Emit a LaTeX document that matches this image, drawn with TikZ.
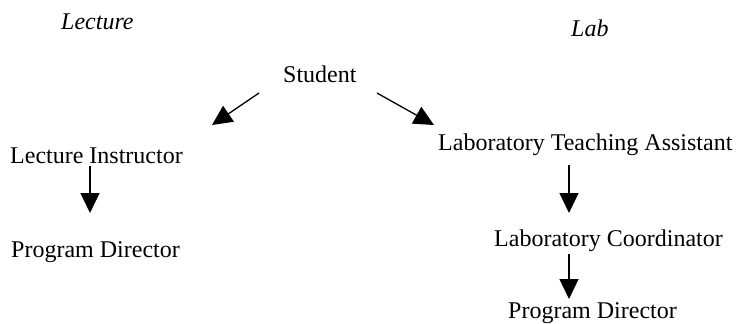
\documentclass[tikz,border=0pt]{standalone}
\usepackage{fontspec}
\setmainfont{Liberation Serif}
\usetikzlibrary{arrows.meta}
\begin{document}
\begin{tikzpicture}[x=1pt,y=-1pt,
  lbl/.style={inner sep=0pt,anchor=base west,font=\fontsize{24}{28}\selectfont},
  head/.style={inner sep=0pt,anchor=base west,font=\fontsize{24}{28}\selectfont\itshape},
  arr/.style={line width=1.3pt,-{Triangle[length=20pt,width=19pt]}}]
\useasboundingbox (0,0) rectangle (737,324);
\node[head] (lecture) at (61,30) {Lecture};
\node[head] (lab) at (571,36) {Lab};
\node[lbl] (student) at (283,82) {Student};
\node[lbl] (instr) at (10,163) {Lecture Instructor};
\node[lbl] (lta) at (438,150) {Laboratory Teaching Assistant};
\node[lbl] (pdl) at (11,257) {Program Director};
\node[lbl] (coord) at (494,246) {Laboratory Coordinator};
\node[lbl] (pdr) at (508,318) {Program Director};
\coordinate (s1) at (259,93);
\coordinate (t1) at (212,125);
\coordinate (s2) at (377,93);
\coordinate (t2) at (434,125);
\coordinate (s3) at (90,166);
\coordinate (t3) at (90,213);
\coordinate (s4) at (569,165);
\coordinate (t4) at (569,213);
\coordinate (s5) at (569,254);
\coordinate (t5) at (569,299);
\draw[arr] (s1) -- (t1);
\draw[arr] (s2) -- (t2);
\draw[arr] (s3) -- (t3);
\draw[arr] (s4) -- (t4);
\draw[arr] (s5) -- (t5);
\end{tikzpicture}
\end{document}
